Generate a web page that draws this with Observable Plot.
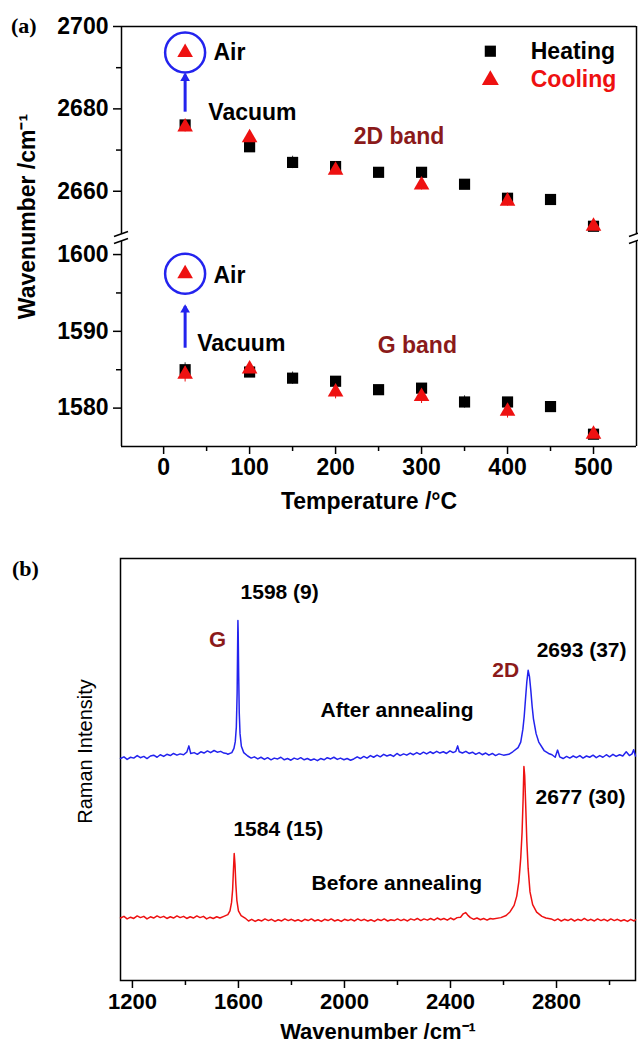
<!DOCTYPE html>
<html>
<head>
<meta charset="utf-8">
<script src="https://cdn.jsdelivr.net/npm/d3@7"></script>
<script src="https://cdn.jsdelivr.net/npm/@observablehq/plot@0.6"></script>
<style>
  body { margin: 0; background: #fff; }
  #wrap { position: relative; width: 638px; height: 1051px; overflow: hidden; background: #fff; }
  .panel { position: absolute; left: 0; }
  .panel svg { overflow: visible; }
  .plabel { position: absolute; z-index: 5; font-family: "Liberation Serif", "DejaVu Serif", serif; font-weight: bold; font-size: 22px; }
</style>
</head>
<body>
<div id="wrap">
  <div id="pa1" class="panel" style="top:0px; z-index:2;"></div>
  <div id="pa2" class="panel" style="top:237px; z-index:1;"></div>
  <div id="pb" class="panel" style="top:530px;"></div>
  <div class="plabel" style="left:11px; top:13px;">(a)</div>
  <div class="plabel" style="left:12px; top:556px;">(b)</div>
</div>
<script>
// ---------------- Panel (a) data ----------------
const heatTemps = [25, 100, 150, 200, 250, 300, 350, 400, 450, 500];
const heat2D    = [2676.1, 2670.8, 2667.0, 2666.0, 2664.6, 2664.6, 2661.7, 2658.3, 2658.0, 2651.5];
const heat2DErr = [0.8, 0.6, 1.5, 1.0, 0.4, 0.5, 0.9, 0.8, 0.4, 0.6];
const heatG     = [1585.0, 1584.7, 1583.9, 1583.5, 1582.4, 1582.6, 1580.8, 1580.8, 1580.2, 1576.6];
const heatGErr  = [0.9, 0.6, 0.8, 0.6, 0.3, 0.5, 0.8, 0.5, 0.3, 0.4];

const coolTemps = [25, 100, 200, 300, 400, 500];
const cool2D    = [2675.6, 2673.0, 2665.1, 2661.5, 2657.6, 2651.5];
const cool2DErr = [1.2, 0.5, 1.0, 1.2, 1.2, 0.4];
const coolG     = [1584.4, 1585.1, 1582.1, 1581.5, 1579.6, 1576.6];
const coolGErr  = [1.0, 0.5, 0.9, 0.9, 0.9, 0.3];

const airTemp = 25;
const air2D = 2693.7;
const airG  = 1597.5;
const vac2D = 2679.2;   // arrow start (vacuum) for 2D
const vacG  = 1587.8;   // arrow start (vacuum) for G
const airArrowEnd2D = 2688.2;
const airArrowEndG  = 1593.2;

const tempTicks  = [0, 100, 200, 300, 400, 500];
const tempMinor  = [50, 150, 250, 350, 450];
const ticks2D    = [2660, 2680, 2700];
const minor2D    = [2670, 2690];
const ticksG     = [1580, 1590, 1600];
const minorG     = [1585, 1595];

// ---------------- Panel (b) data ----------------
const ramanTicks = [1200, 1600, 2000, 2400, 2800];
const ramanMinor = [1400, 1800, 2200, 2600, 3000];

const afterAnnealing = [
 [1155,52.6],[1168,53.0],[1180,52.4],[1193,52.9],[1205,52.7],[1218,53.3],[1230,52.8],[1243,53.1],[1255,52.6],[1268,53.2],
 [1280,53.4],[1293,52.9],[1305,53.5],[1318,53.1],[1330,53.6],[1343,53.3],[1355,53.8],[1368,53.4],[1380,53.7],[1393,53.5],
 [1405,54.1],[1413,55.6],[1420,53.8],[1433,54.0],[1445,53.6],[1458,54.2],[1470,53.9],[1483,54.4],[1495,54.0],[1508,54.5],
 [1520,54.1],[1533,54.3],[1545,53.9],[1555,53.8],
 [1560,53.6],[1575,54.0],[1583,55.0],[1588,56.6],[1592,60.0],[1595,68.0],[1597,80.0],[1598,85.3],[1599,82.5],[1601,72.0],
 [1603,63.5],[1606,58.5],[1611,55.5],[1620,54.0],[1635,53.2],
 [1648,52.7],[1660,53.0],[1673,52.5],[1685,52.9],[1698,52.4],[1710,52.8],[1723,52.3],[1735,52.7],[1748,52.5],[1760,52.9],
 [1773,52.3],[1785,52.6],[1798,52.2],[1810,52.7],[1823,52.4],[1835,52.8],[1848,52.3],[1860,52.6],[1873,52.2],[1885,52.5],
 [1898,52.1],[1910,52.6],[1923,52.3],[1935,52.8],[1948,52.5],[1960,52.9],[1973,52.4],[1985,52.7],[1998,52.3],[2010,52.6],
 [2023,52.2],[2035,52.5],[2048,53.0],[2060,52.6],[2073,53.1],[2085,52.7],[2098,53.3],[2110,52.9],[2123,53.4],[2135,53.0],
 [2148,53.6],[2160,53.2],[2173,53.5],[2185,53.1],[2198,53.8],[2210,53.3],[2223,53.7],[2235,53.4],[2248,53.9],[2260,53.5],
 [2273,54.0],[2285,53.6],[2298,54.1],[2310,53.7],[2323,54.2],[2335,53.8],[2348,54.3],[2360,53.9],[2373,54.2],[2385,53.8],
 [2398,54.4],[2410,54.0],[2420,54.3],[2427,55.6],[2433,54.2],[2445,53.9],[2458,54.3],[2470,53.8],[2483,54.1],[2495,53.6],
 [2508,54.0],[2520,53.5],[2533,53.9],[2545,53.4],[2558,53.8],[2570,53.3],[2583,53.7],
 [2600,53.4],[2620,53.6],[2635,54.2],[2655,55.2],[2665,56.5],[2673,59.5],[2678,62.5],[2683,66.7],[2688,70.8],[2693,73.5],
 [2698,72.0],[2703,68.8],[2708,65.0],[2713,62.0],[2723,58.5],[2733,56.5],[2753,54.5],[2770,53.8],
 [2783,53.5],[2795,52.9],[2804,54.6],[2812,53.0],[2825,52.6],[2838,53.1],[2850,52.7],[2863,53.2],[2875,52.8],[2888,53.3],
 [2900,52.7],[2913,53.2],[2925,52.9],[2938,53.4],[2950,52.8],[2963,53.3],[2975,52.9],[2988,53.5],[3000,53.0],[3013,53.6],
 [3025,53.1],[3038,53.5],[3050,53.2],[3063,54.2],[3075,53.3],[3085,53.7],[3091,54.7],[3098,53.2]
];

const beforeAnnealing = [
 [1155,14.8],[1168,15.2],[1180,14.6],[1193,15.0],[1205,14.7],[1218,15.3],[1230,14.9],[1243,15.2],[1255,14.6],[1268,15.1],
 [1280,14.8],[1293,15.3],[1305,14.9],[1318,15.2],[1330,14.7],[1343,15.1],[1355,14.8],[1368,15.3],[1380,14.9],[1393,15.2],
 [1405,14.7],[1418,15.1],[1430,14.8],[1443,15.3],[1455,14.9],[1468,15.2],[1480,14.6],[1493,15.0],[1505,14.7],[1518,15.1],
 [1530,14.8],
 [1545,15.2],[1560,15.6],[1568,16.5],[1574,18.5],[1578,21.5],[1581,26.0],[1584,30.1],[1587,27.5],[1590,23.0],[1594,19.0],
 [1600,16.5],[1610,15.4],[1625,14.8],
 [1638,14.1],[1650,14.5],[1663,14.0],[1675,14.4],[1688,14.1],[1700,14.6],[1713,14.2],[1725,14.5],[1738,14.0],[1750,14.4],
 [1763,14.1],[1775,14.6],[1788,14.2],[1800,14.5],[1813,14.1],[1825,14.4],[1838,14.0],[1850,14.5],[1863,14.2],[1875,14.6],
 [1888,14.1],[1900,14.4],[1913,14.0],[1925,14.5],[1938,14.2],[1950,14.6],[1963,14.1],[1975,14.4],[1988,14.0],[2000,14.5],
 [2013,14.2],[2025,14.5],[2038,14.1],[2050,14.6],[2063,14.2],[2075,14.5],[2088,14.1],[2100,14.4],[2113,14.0],[2125,14.5],
 [2138,14.2],[2150,14.6],[2163,14.1],[2175,14.4],[2188,14.2],[2200,14.6],[2213,14.2],[2225,14.5],[2238,14.1],[2250,14.6],
 [2263,14.3],[2275,14.7],[2288,14.2],[2300,14.6],[2313,14.3],[2325,14.7],[2338,14.3],[2350,14.8],[2363,14.4],[2375,14.7],
 [2388,14.3],[2400,14.8],[2413,14.4],[2425,14.9],[2438,15.0],[2448,15.8],[2457,16.1],[2465,15.5],[2475,14.9],[2488,14.5],
 [2500,14.8],[2513,14.4],[2525,14.7],[2538,14.3],[2550,14.7],
 [2560,14.6],[2590,14.9],[2610,15.4],[2625,16.3],[2640,17.8],[2650,20.0],[2658,23.5],[2665,29.0],[2670,35.0],[2674,43.0],
 [2677,50.7],[2680,48.5],[2684,41.0],[2688,33.0],[2693,26.5],[2700,21.0],[2710,18.0],[2725,16.2],[2745,15.2],[2760,14.8],
 [2780,14.6],[2793,14.2],[2805,14.6],[2818,14.1],[2830,14.5],[2843,14.2],[2855,14.6],[2868,14.1],[2880,14.5],[2893,14.2],
 [2905,14.7],[2918,14.2],[2930,14.5],[2943,14.1],[2955,14.6],[2968,14.2],[2980,14.5],[2993,14.1],[3005,14.6],[3018,14.2],
 [3030,14.5],[3043,14.1],[3055,14.4],[3068,14.0],[3080,14.5],[3093,14.1],[3098,14.4]
];

// ---------------- styles ----------------
const BLUE = "#2323ee", RED = "#ee1111", DARKRED = "#8b1a1a";
const FONT = "'Liberation Sans', Arial, sans-serif";
const FS = 23;
const baseStyle = (fs) => ({fontFamily: FONT, fontSize: fs, fontWeight: "bold", background: "transparent", overflow: "visible"});

const heating = heatTemps.map((t, i) => ({t, d2: heat2D[i], e2: heat2DErr[i], g: heatG[i], eg: heatGErr[i]}));
const cooling = coolTemps.map((t, i) => ({t, d2: cool2D[i], e2: cool2DErr[i], g: coolG[i], eg: coolGErr[i]}));

const yHi = [2649.5, 2700], yLo = [1575, 1601.7];
const xA = [-49, 550];

// ---- upper segment (2D band) ----
const chartA1 = Plot.plot({
  width: 638, height: 237,
  marginLeft: 121, marginRight: 2, marginTop: 26, marginBottom: 3,
  style: baseStyle(FS + "px"),
  x: {domain: xA, axis: null},
  y: {domain: yHi},
  marks: [
    Plot.ruleY([yHi[1]], {x1: xA[0], x2: xA[1], stroke: "black", strokeWidth: 1.5}),
    Plot.ruleX(xA, {y1: yHi[0], y2: yHi[1], stroke: "black", strokeWidth: 1.5}),
    Plot.axisY(ticks2D, {anchor: "left", tickSize: 8, tickPadding: 5, tickFormat: d => String(d), label: null, strokeWidth: 1.5, fontSize: FS}),
    Plot.axisY(minor2D, {anchor: "left", tickSize: 5, tickFormat: () => "", label: null, strokeWidth: 1.5}),
    Plot.text(["Wavenumber /cm⁻¹"], {frameAnchor: "left", textAnchor: "middle", rotate: -90, dx: -94, dy: 86, fontSize: FS}),
    Plot.ruleX(heating, {x: "t", y1: d => d.d2 - d.e2, y2: d => d.d2 + d.e2, stroke: "#333", strokeWidth: 1}),
    Plot.dot(heating, {x: "t", y: "d2", symbol: "square", r: 6.3, fill: "black"}),
    Plot.ruleX(cooling, {x: "t", y1: d => d.d2 - d.e2, y2: d => d.d2 + d.e2, stroke: RED, strokeWidth: 1}),
    Plot.dot(cooling, {x: "t", y: "d2", symbol: "triangle", r: 5.8, fill: RED}),
    Plot.dot([air2D], {x: airTemp, y: d => d, symbol: "triangle", r: 5.8, fill: RED}),
    Plot.dot([air2D], {x: airTemp, y: d => d, r: 20, stroke: BLUE, strokeWidth: 2.5, fill: "none"}),
    Plot.ruleX([airTemp], {y1: vac2D, y2: airArrowEnd2D, stroke: BLUE, strokeWidth: 3}),
    Plot.dot([airTemp], {x: d => d, y: airArrowEnd2D, symbol: "triangle", r: 3.6, fill: BLUE, dy: 3}),
    Plot.text(["Air"], {x: 58, y: air2D, textAnchor: "start", fontSize: FS}),
    Plot.text(["Vacuum"], {x: 52, y: 2679, textAnchor: "start", fontSize: FS}),
    Plot.text(["2D band"], {x: 221, y: 2673.3, textAnchor: "start", fontSize: FS, fill: DARKRED}),
    // legend
    Plot.dot([0], {x: 380, y: 2694, symbol: "square", r: 6.3, fill: "black"}),
    Plot.dot([0], {x: 380, y: 2687, symbol: "triangle", r: 6.3, fill: RED}),
    Plot.text(["Heating"], {x: 427, y: 2694, textAnchor: "start", fontSize: FS}),
    Plot.text(["Cooling"], {x: 427, y: 2687, textAnchor: "start", fontSize: FS, fill: RED})
  ]
});

// ---- lower segment (G band) ----
const chartA2 = Plot.plot({
  width: 638, height: 293,
  marginLeft: 121, marginRight: 2, marginTop: 4, marginBottom: 84,
  style: baseStyle(FS + "px"),
  x: {domain: xA},
  y: {domain: yLo, axis: null},
  marks: [
    Plot.ruleY([yLo[0]], {x1: xA[0], x2: xA[1], stroke: "black", strokeWidth: 1.5}),
    Plot.ruleX(xA, {y1: yLo[0], y2: yLo[1], stroke: "black", strokeWidth: 1.5}),
    Plot.axisX(tempTicks, {anchor: "bottom", tickSize: 8, tickPadding: 4, tickFormat: d => String(d), label: null, strokeWidth: 1.5, fontSize: FS}),
    Plot.axisX(tempMinor, {anchor: "bottom", tickSize: 5, tickFormat: () => "", label: null, strokeWidth: 1.5}),
    Plot.axisY(ticksG, {anchor: "left", tickSize: 8, tickPadding: 5, tickFormat: d => String(d), label: null, strokeWidth: 1.5, fontSize: FS}),
    Plot.axisY(minorG, {anchor: "left", tickSize: 5, tickFormat: () => "", label: null, strokeWidth: 1.5}),
    Plot.text(["Temperature /°C"], {frameAnchor: "bottom", dx: -10, dy: 62, fontSize: FS}),
    Plot.ruleX(heating, {x: "t", y1: d => d.g - d.eg, y2: d => d.g + d.eg, stroke: "#333", strokeWidth: 1}),
    Plot.dot(heating, {x: "t", y: "g", symbol: "square", r: 6.3, fill: "black"}),
    Plot.ruleX(cooling, {x: "t", y1: d => d.g - d.eg, y2: d => d.g + d.eg, stroke: RED, strokeWidth: 1}),
    Plot.dot(cooling, {x: "t", y: "g", symbol: "triangle", r: 5.8, fill: RED}),
    Plot.dot([airG], {x: airTemp, y: d => d, symbol: "triangle", r: 5.8, fill: RED}),
    Plot.dot([airG], {x: airTemp, y: d => d, r: 20, stroke: BLUE, strokeWidth: 2.5, fill: "none"}),
    Plot.ruleX([airTemp], {y1: vacG, y2: airArrowEndG, stroke: BLUE, strokeWidth: 3}),
    Plot.dot([airTemp], {x: d => d, y: airArrowEndG, symbol: "triangle", r: 3.6, fill: BLUE, dy: 3}),
    Plot.text(["Air"], {x: 58, y: 1597.2, textAnchor: "start", fontSize: FS}),
    Plot.text(["Vacuum"], {x: 39, y: 1588.4, textAnchor: "start", fontSize: FS}),
    Plot.text(["G band"], {x: 249, y: 1588.2, textAnchor: "start", fontSize: FS, fill: DARKRED})
  ]
});

// break marks
function breakMarks(chart, yv) {
  const sx = chart.scale("x"), sy = chart.scale("y");
  const py = sy.apply(yv);
  const g = d3.select(chart).append("g").attr("stroke", "black").attr("stroke-width", 1.5);
  for (const xv of xA) {
    const px = sx.apply(xv);
    g.append("line").attr("x1", px - 7).attr("y1", py + 2.5).attr("x2", px + 7).attr("y2", py - 2.5);
  }
}
breakMarks(chartA1, yHi[0]);
breakMarks(chartA2, yLo[1]);
document.getElementById("pa1").appendChild(chartA1);
document.getElementById("pa2").appendChild(chartA2);

// ---------------- Panel (b) ----------------
const chartB = Plot.plot({
  width: 638, height: 521,
  marginLeft: 120, marginRight: 3, marginTop: 28, marginBottom: 71,
  style: {fontFamily: FONT, fontSize: "21px", fontWeight: "bold", background: "white", overflow: "visible"},
  x: {domain: [1155, 3098]},
  y: {domain: [0, 100], axis: null},
  marks: [
    Plot.frame({stroke: "black", strokeWidth: 1.5}),
    Plot.axisX(ramanTicks, {anchor: "bottom", tickSize: 8, tickPadding: 5, tickFormat: d => String(d), label: null, strokeWidth: 1.5, fontSize: 22}),
    Plot.axisX(ramanMinor, {anchor: "bottom", tickSize: 5, tickFormat: () => "", label: null, strokeWidth: 1.5}),
    Plot.line(afterAnnealing, {x: d => d[0], y: d => d[1], stroke: BLUE, strokeWidth: 1.5}),
    Plot.line(beforeAnnealing, {x: d => d[0], y: d => d[1], stroke: RED, strokeWidth: 1.5}),
    Plot.text(["Wavenumber /cm⁻¹"], {frameAnchor: "bottom", dy: 58, fontSize: 22}),
    Plot.text(["Raman Intensity"], {frameAnchor: "left", textAnchor: "middle", rotate: -90, dx: -35, dy: -18, fontSize: 20, fontWeight: 500}),
    Plot.text(["1598 (9)"], {x: 1608, y: 91.9, textAnchor: "start", fontSize: 21}),
    Plot.text(["G"], {x: 1521, y: 80.6, fontSize: 22, fill: DARKRED}),
    Plot.text(["2D"], {x: 2608, y: 73.5, fontSize: 21, fill: DARKRED}),
    Plot.text(["2693 (37)"], {x: 2725, y: 78.2, textAnchor: "start", fontSize: 21}),
    Plot.text(["After annealing"], {x: 1910, y: 64.0, textAnchor: "start", fontSize: 21}),
    Plot.text(["1584 (15)"], {x: 1581, y: 35.8, textAnchor: "start", fontSize: 21}),
    Plot.text(["2677 (30)"], {x: 2721, y: 43.4, textAnchor: "start", fontSize: 21}),
    Plot.text(["Before annealing"], {x: 1876, y: 23.0, textAnchor: "start", fontSize: 21})
  ]
});
document.getElementById("pb").appendChild(chartB);
</script>
</body>
</html>
